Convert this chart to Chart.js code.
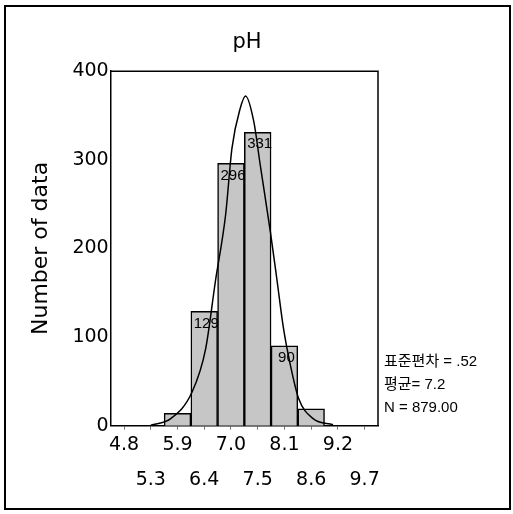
<!DOCTYPE html>
<html>
<head>
<meta charset="utf-8">
<script src="https://cdn.jsdelivr.net/npm/chart.js@4"></script>
<style>
  body { margin: 0; background: #fff; }
  #wrap { position: relative; width: 513px; height: 514px; }
  #frame { position: absolute; left: 4px; top: 5px; width: 503px; height: 501px; border: 2px solid #000; pointer-events: none; }
  #stats { position: absolute; left: 384px; top: 349px; font: 15px "Liberation Sans", "Noto Sans CJK KR", sans-serif; line-height: 23px; color: #000; }
</style>
</head>
<body>
<div id="wrap">
  <canvas id="chart" width="513" height="514"></canvas>
  <div id="frame"></div>
  <div id="stats">
    <div>표준편차 = .52</div>
    <div>평균= 7.2</div>
    <div>N = 879.00</div>
  </div>
</div>
<script>
// histogram bins (bin centres, as printed on the axis)
const BINS = [`4.8`, `5.3`, `5.9`, `6.4`, `7.0`, `7.5`, `8.1`, `8.6`, `9.2`, `9.7`]
const COUNTS = [0, 0, 14, 129, 296, 331, 90, 19, 0, 0]
// normal curve (pH, count)
const CURVE_PH = [5.35, 5.76, 6.20, 6.48, 6.68, 6.89, 7.02, 7.19, 7.30, 7.47, 7.60, 7.81, 7.95, 8.08, 8.22, 8.39, 8.69, 9.10]
const CURVE_N = [0.5, 8, 38, 87, 163, 238, 313, 358, 372, 343, 295, 219, 163, 110, 69, 31, 8, 1]
const Y_TICKS = [0, 100, 200, 300, 400]
// pH range covered by the category axis (first/last bin edge)
const PH_MIN = 4.525
const PH_MAX = 10.025

const boxPlugin = {
  id: `box`,
  afterDraw(chart) {
    const { ctx, chartArea: a } = chart
    ctx.save()
    ctx.strokeStyle = `#000`
    ctx.lineWidth = 1.5
    ctx.beginPath()
    ctx.moveTo(a.left, a.top)
    ctx.lineTo(a.right, a.top)
    ctx.lineTo(a.right, a.bottom)
    ctx.stroke()
    ctx.restore()
  }
}

const barLabels = {
  id: `barLabels`,
  afterDatasetsDraw(chart) {
    const { ctx } = chart
    const meta = chart.getDatasetMeta(0)
    ctx.save()
    ctx.font = `15px "Liberation Sans", Arial, sans-serif`
    ctx.fillStyle = `#000`
    ctx.textAlign = `center`
    ctx.textBaseline = `middle`
    meta.data.forEach((bar, i) => {
      if (COUNTS[i] > 50) ctx.fillText(String(COUNTS[i]), bar.x + 2, bar.y + 12)
    })
    ctx.restore()
  }
}

const el = document.getElementById(`chart`).getContext(`2d`)
new Chart(el, {
  data: {
    labels: BINS,
    datasets: [{
      type: `bar`,
      data: COUNTS,
      backgroundColor: `#c6c6c6`,
      borderColor: `#000`,
      borderWidth: 1.5,
      barPercentage: 1,
      categoryPercentage: 1,
      grouped: false,
      order: 1
    }, {
      type: `line`,
      xAxisID: `xc`,
      data: CURVE_PH.map((x, i) => ({ x, y: CURVE_N[i] })),
      borderColor: `#000`,
      borderWidth: 1.5,
      pointRadius: 0,
      cubicInterpolationMode: `monotone`,
      fill: false,
      order: 0
    }]
  },
  options: {
    responsive: false,
    animation: false,
    layout: { padding: { left: 10, right: 29, top: 0, bottom: 18 } },
    plugins: {
      legend: { display: false },
      tooltip: { enabled: false },
      title: {
        display: true,
        text: `pH`,
        color: `#000`,
        font: { family: `"DejaVu Sans"`, size: 21, weight: `normal`, lineHeight: 1.2 },
        padding: { top: 30, bottom: 16 }
      }
    },
    scales: {
      x: {
        type: `category`,
        offset: true,
        grid: { display: true, drawOnChartArea: false, drawTicks: true, tickLength: 4, offset: false, color: `#777` },
        border: { display: true, color: `#000`, width: 1.5 },
        ticks: {
          autoSkip: false,
          maxRotation: 0,
          padding: -2,
          color: `#000`,
          font: { family: `"DejaVu Sans"`, size: 19, lineHeight: 1.85 },
          callback: (v, i) => i % 2 ? [``, BINS[i]] : BINS[i]
        }
      },
      xc: {
        type: `linear`,
        display: false,
        min: PH_MIN,
        max: PH_MAX
      },
      y: {
        min: 0,
        max: 400,
        afterBuildTicks: scale => { scale.ticks = Y_TICKS.map(value => ({ value })) },
        grid: { display: false, drawTicks: false },
        border: { display: true, color: `#000`, width: 1.5 },
        ticks: {
          padding: 2,
          color: `#000`,
          font: { family: `"DejaVu Sans"`, size: 19 }
        },
        title: {
          display: true,
          text: `Number of data`,
          color: `#000`,
          font: { family: `"DejaVu Sans"`, size: 22, lineHeight: 1.2 },
          padding: { top: 18, bottom: 16 }
        }
      },
      // empty strip on the right, keeps room for the statistics text
      yr: {
        position: `right`,
        display: true,
        grid: { display: false, drawTicks: false },
        border: { display: false },
        ticks: { display: false },
        afterFit: scale => { scale.width = 106 }
      }
    }
  },
  plugins: [boxPlugin, barLabels]
})
</script>
</body>
</html>
